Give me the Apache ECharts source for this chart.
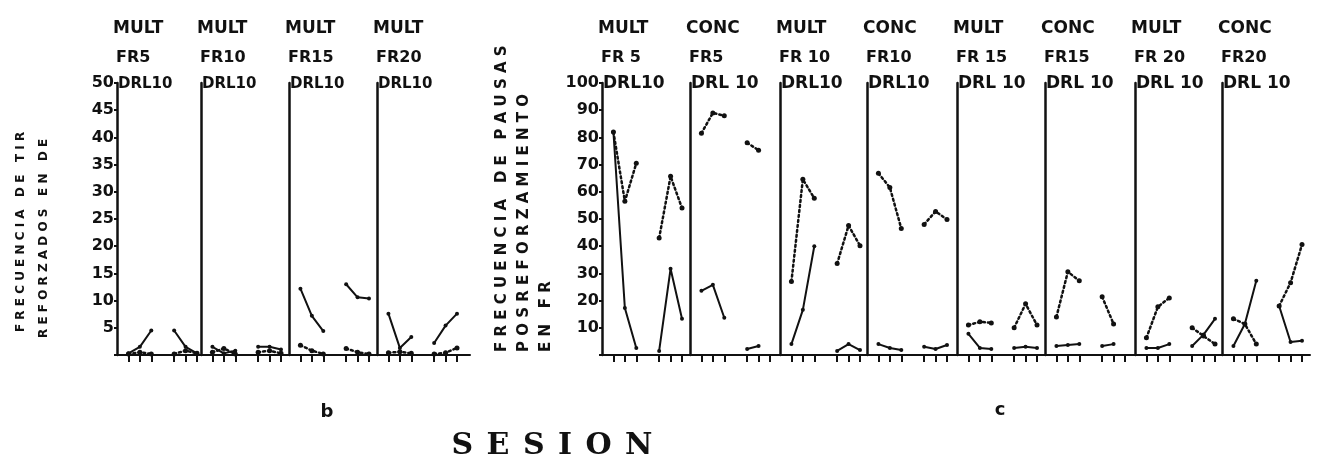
<!DOCTYPE html>
<html><head><meta charset="utf-8">
<script src="https://cdn.jsdelivr.net/npm/echarts@6/dist/echarts.min.js"></script>
<style>html,body{margin:0;padding:0;background:#fff}#c{width:1318px;height:462px}</style>
</head><body><div id="c"></div>
<script>
// ---------- DATA ----------
const sessions = [1, 2, 3, 5, 6, 7];

const bRow1 = ['MULT', 'MULT', 'MULT', 'MULT'];
const bRow2 = ['FR5', 'FR10', 'FR15', 'FR20'];
const bRow3 = ['DRL10', 'DRL10', 'DRL10', 'DRL10'];
const bTicks = [5, 10, 15, 20, 25, 30, 35, 40, 45, 50];
const bSolid = [
  [0.3, 1.5, 4.5, 4.5, 1.5, 0.3],
  [1.5, 0.3, 0.8, 1.5, 1.5, 1.0],
  [12.2, 7.2, 4.4, 13.0, 10.6, 10.4],
  [7.6, 1.3, 3.3, 2.2, 5.4, 7.6]
];
const bDotted = [
  [0.2, 0.5, 0.2, 0.2, 0.8, 0.3],
  [0.5, 1.2, 0.2, 0.5, 0.8, 0.3],
  [1.8, 0.8, 0.2, 1.2, 0.5, 0.2],
  [0.4, 0.6, 0.3, 0.2, 0.4, 1.3]
];

const cRow1 = ['MULT', 'CONC', 'MULT', 'CONC', 'MULT', 'CONC', 'MULT', 'CONC'];
const cRow2 = ['FR 5', 'FR5', 'FR 10', 'FR10', 'FR 15', 'FR15', 'FR 20', 'FR20'];
const cRow3 = ['DRL10', 'DRL 10', 'DRL10', 'DRL10', 'DRL 10', 'DRL 10', 'DRL 10', 'DRL 10'];
const cTicks = [10, 20, 30, 40, 50, 60, 70, 80, 90, 100];
const cSolid = [
  [82, 17.3, 2.6, 1.5, 31.7, 13.3],
  [23.6, 25.8, 13.7, 2.2, 3.3, null],
  [4, 16.6, 40, 1.5, 4, 1.8],
  [4, 2.6, 1.8, 3, 2.2, 3.7],
  [7.8, 2.6, 2.2, 2.6, 3, 2.6],
  [3.3, 3.7, 4, 3.3, 4, null],
  [2.6, 2.6, 4, 3.3, 7.5, 13.3],
  [3.3, 11.4, 27.3, 18, 4.8, 5.2]
];
const cDotted = [
  [82, 56.5, 70.5, 43, 65.7, 54],
  [81.5, 89, 88, 78, 75.3, null],
  [27, 64.6, 57.6, 33.6, 47.6, 40.2],
  [66.8, 61.6, 46.5, 48, 52.8, 49.8],
  [11, 12.2, 11.8, 10, 18.8, 11],
  [14, 30.6, 27.3, 21.4, 11.4, null],
  [6.3, 17.7, 21, 10, 7, 4],
  [13.3, 11.4, 4, 18, 26.6, 40.6]
];

const bYTitle = ['FRECUENCIA DE TIR', 'REFORZADOS EN DE'];
const cYTitle = ['FRECUENCIA DE PAUSAS', 'POSREFORZAMIENTO', 'EN FR'];
const xTitle = 'SESION';
const panelTags = ['b', 'c'];

// ---------- LAYOUT ----------
const TOP = 83, BOTTOM_Y = 355;
const bEdges = [117, 201, 289, 377, 470];
const cEdges = [602, 690, 780, 867, 957, 1045, 1135, 1222, 1310];
const PX_PER_UNIT = 88 / 7.7;
const INK = '#111';
const FONT = '"DejaVu Sans", "Liberation Sans", sans-serif';

function spaced(s) { return s.split('').join(' '); }

const grids = [], xAxes = [], yAxes = [], series = [], graphics = [];

function headText(x, y, txt, size) {
  graphics.push({ type: 'text', x: x, y: y, style: { text: txt, font: 'bold ' + size + 'px ' + FONT, fill: INK, textAlign: 'left', textVerticalAlign: 'middle', verticalAlign: 'middle' } });
}

function addPanel(left, right, ymax, tickVals, first, solidVals, dottedVals, row1, row2, row3, row3Size) {
  const idx = grids.length;
  const w = right - left;
  grids.push({ left: left, top: TOP, width: w, height: BOTTOM_Y - TOP });
  xAxes.push({
    gridIndex: idx, type: 'value', min: 0, max: w / PX_PER_UNIT,
    axisLine: { show: true, onZero: false, lineStyle: { color: INK, width: 2 } },
    axisTick: { show: true, customValues: sessions, length: 7, lineStyle: { color: INK, width: 2 } },
    axisLabel: { show: false }, splitLine: { show: false }
  });
  yAxes.push({
    gridIndex: idx, type: 'value', min: 0, max: ymax, interval: ymax / 10,
    axisLine: { show: true, lineStyle: { color: INK, width: 2.5 } },
    axisTick: { show: first, length: 3, lineStyle: { color: INK, width: 2 } },
    axisLabel: {
      show: first, color: INK, fontWeight: 'bold', fontSize: 16, fontFamily: FONT, margin: 3,
      formatter: v => (tickVals.indexOf(v) >= 0 ? String(v) : '')
    },
    splitLine: { show: false }
  });
  [[0, 3], [3, 6]].forEach(([a, b]) => {
    const sd = [], dd = [];
    for (let i = a; i < b; i++) {
      if (solidVals[i] != null) sd.push([sessions[i], solidVals[i]]);
      if (dottedVals[i] != null) dd.push([sessions[i], dottedVals[i]]);
    }
    series.push({
      type: 'line', xAxisIndex: idx, yAxisIndex: idx, data: sd, silent: true,
      symbol: 'circle', symbolSize: 4, showSymbol: true,
      lineStyle: { color: INK, width: 2 }, itemStyle: { color: INK }
    });
    series.push({
      type: 'line', xAxisIndex: idx, yAxisIndex: idx, data: dd, silent: true,
      symbol: 'circle', symbolSize: 5, showSymbol: true,
      lineStyle: { color: INK, width: 2.5, type: [2, 3], cap: 'round' }, itemStyle: { color: INK }
    });
  });
  headText(left - 4, 29, row1, 17);
  headText(left - 1, 58, row2, 16);
  headText(left + 1, 84, row3, row3Size);
}

for (let p = 0; p < 4; p++) {
  addPanel(bEdges[p], bEdges[p + 1], 50, bTicks, p === 0, bSolid[p], bDotted[p], bRow1[p], bRow2[p], bRow3[p], 15);
}
for (let p = 0; p < 8; p++) {
  addPanel(cEdges[p], cEdges[p + 1], 100, cTicks, p === 0, cSolid[p], cDotted[p], cRow1[p], cRow2[p], cRow3[p], 17);
}

function vtext(x, y, txt, size) {
  graphics.push({
    type: 'text', x: x, y: y, rotation: Math.PI / 2,
    style: { text: txt, font: 'bold ' + size + 'px ' + FONT, fill: INK, textAlign: 'left', textVerticalAlign: 'middle', verticalAlign: 'middle' }
  });
}
vtext(21, 332, spaced(bYTitle[0]), 12);
vtext(44, 338, spaced(bYTitle[1]), 12);
vtext(502, 352, spaced(cYTitle[0]), 15);
vtext(524, 352, spaced(cYTitle[1]), 15);
vtext(546, 352, spaced(cYTitle[2]), 15);

graphics.push({ type: 'text', x: 327, y: 412, style: { text: panelTags[0], font: 'bold 18px ' + FONT, fill: INK, textAlign: 'center', textVerticalAlign: 'middle', verticalAlign: 'middle' } });
graphics.push({ type: 'text', x: 1000, y: 410, style: { text: panelTags[1], font: 'bold 18px ' + FONT, fill: INK, textAlign: 'center', textVerticalAlign: 'middle', verticalAlign: 'middle' } });
graphics.push({ type: 'text', x: 552, y: 446, style: { text: xTitle.split('').join(' \u200A'), font: 'bold 30px "DejaVu Serif", "Liberation Serif", serif', fill: INK, textAlign: 'center', textVerticalAlign: 'middle', verticalAlign: 'middle' } });

const chart = echarts.init(document.getElementById('c'), null, { renderer: 'canvas' });
chart.setOption({
  backgroundColor: '#fff',
  animation: false,
  grid: grids, xAxis: xAxes, yAxis: yAxes, series: series,
  graphic: graphics
});
</script>
</body></html>
